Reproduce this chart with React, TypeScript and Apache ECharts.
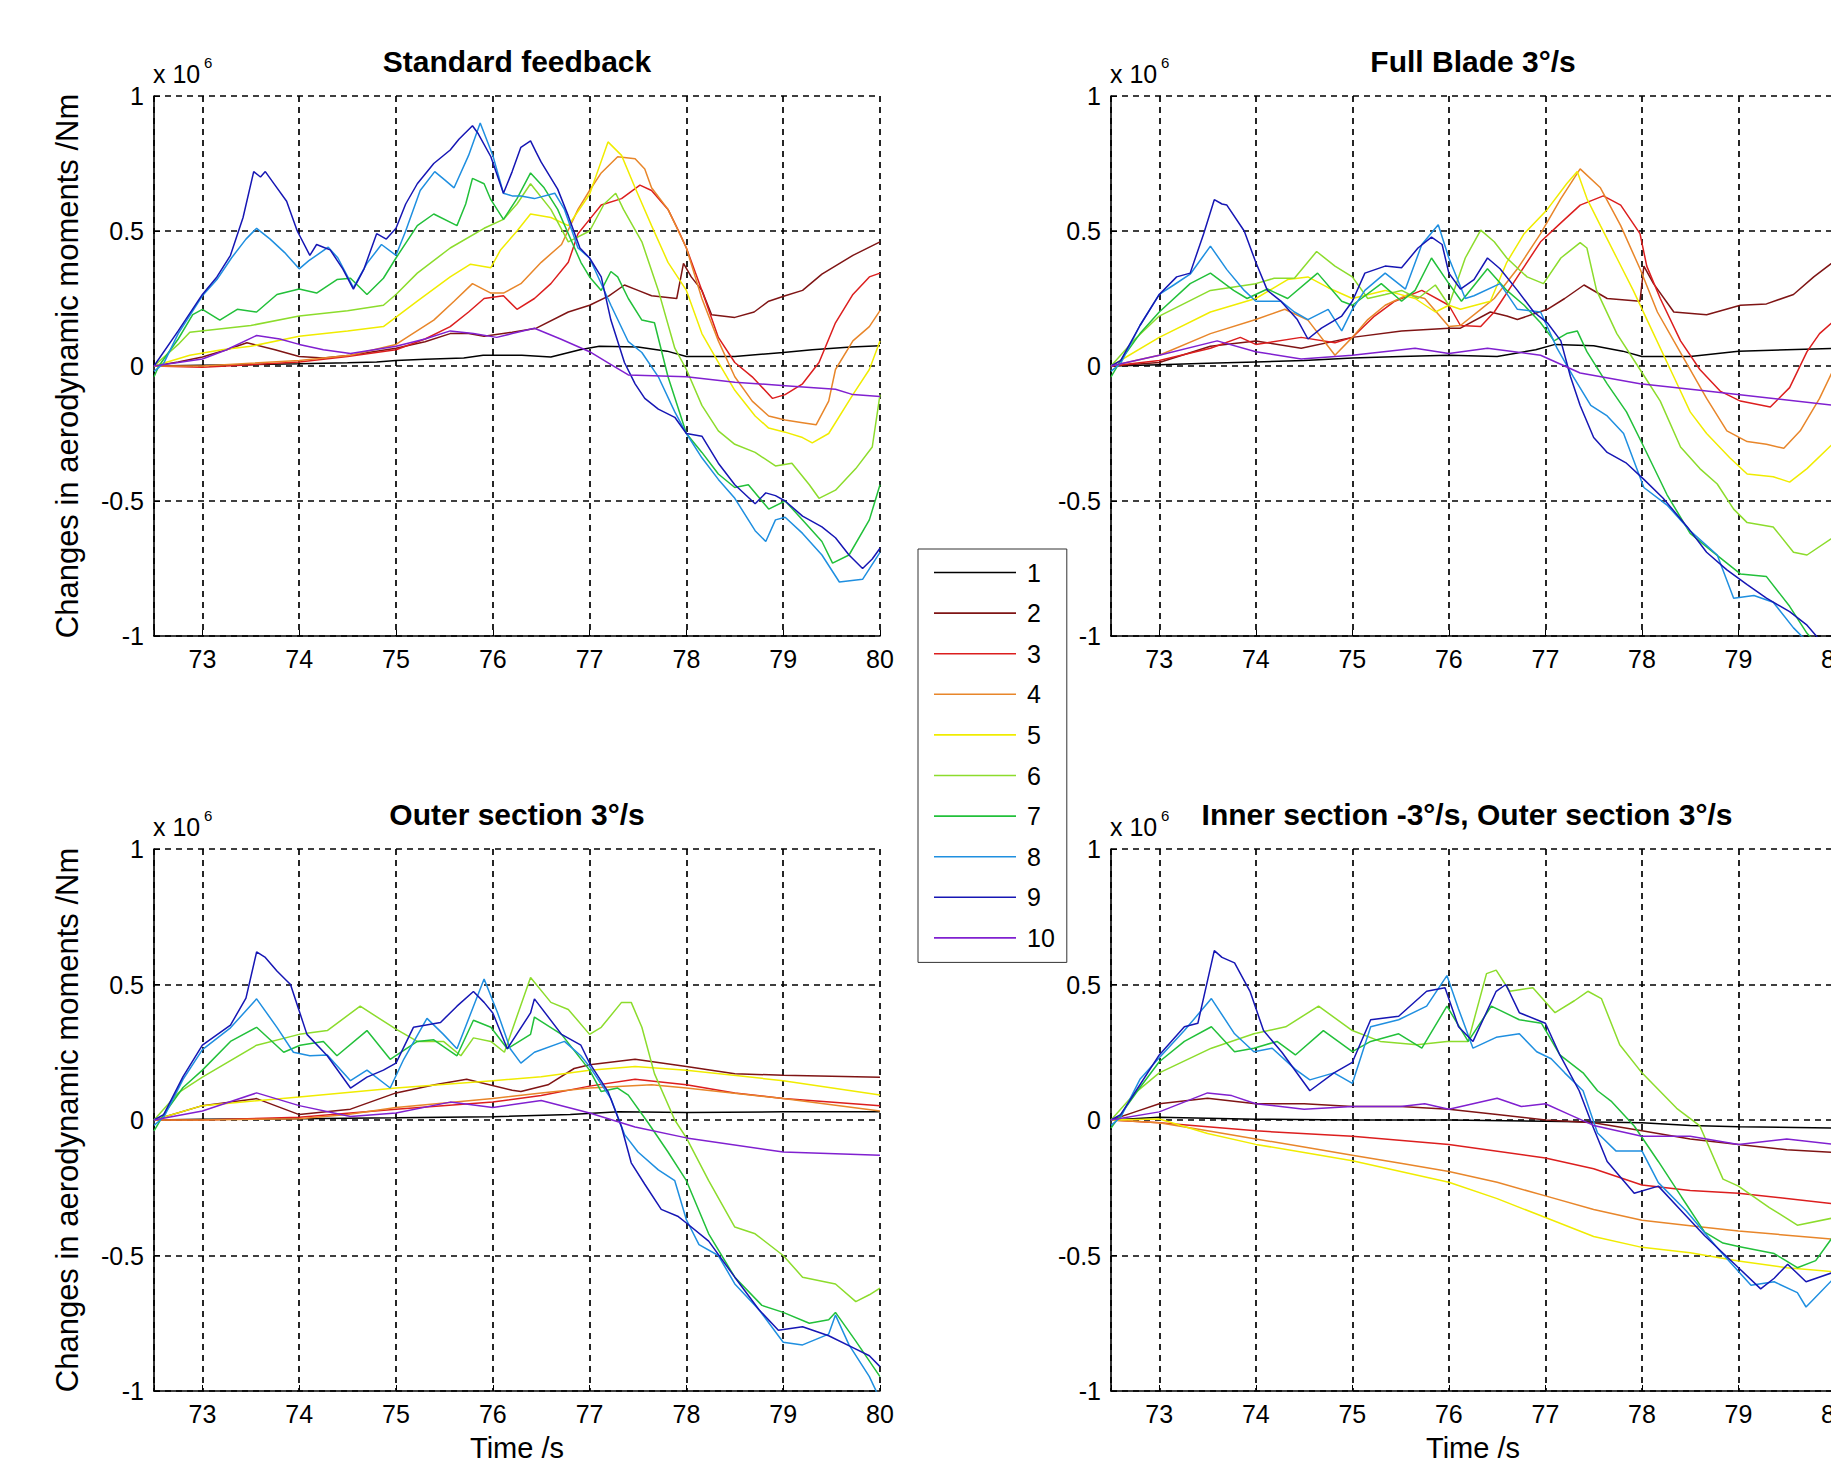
import React, { useEffect, useRef } from "react";
import * as echarts from "echarts";

type Pts = [number, number][];

const CURVE_NAMES = ["1", "2", "3", "4", "5", "6", "7", "8", "9", "10"];
const CURVE_COLORS = [
  "#000000", "#7f1414", "#dc1e1e", "#e8862a", "#f0ec00",
  "#8cdc2c", "#22c03a", "#1f8fe0", "#1616b4", "#8020d0",
];
const PANEL_TITLES = [
  "Standard feedback",
  "Full Blade 3°/s",
  "Outer section 3°/s",
  "Inner section -3°/s, Outer section 3°/s",
];
const Y_TITLE = "Changes in aerodynamic moments /Nm";
const X_TITLE = "Time /s";
const X_MIN = 72.5;
const X_MAX = 80;
const Y_MIN = -1;
const Y_MAX = 1;
const Y_STEP = 0.5;

// ---------- Standard feedback ----------
const SF_1: Pts = [[72.5,0],[73,0.003],[73.5,0.005],[74,0.008],[74.5,0.012],[74.8,0.015],[75,0.02],[75.3,0.025],[75.7,0.03],[75.9,0.04],[76.3,0.04],[76.6,0.033],[76.9,0.06],[77.1,0.073],[77.5,0.07],[77.8,0.055],[78,0.035],[78.5,0.035],[79,0.05],[79.3,0.06],[79.7,0.07],[80,0.075]];
const SF_2: Pts = [[72.5,0],[72.75,0.015],[73,0.033],[73.25,0.06],[73.46,0.086],[73.75,0.06],[74,0.035],[74.25,0.03],[74.53,0.04],[75,0.066],[75.3,0.09],[75.56,0.12],[75.75,0.12],[75.91,0.11],[76.2,0.125],[76.45,0.14],[76.78,0.2],[77,0.225],[77.2,0.26],[77.36,0.3],[77.5,0.28],[77.64,0.26],[77.9,0.25],[77.97,0.38],[78.05,0.33],[78.16,0.28],[78.26,0.19],[78.5,0.18],[78.7,0.2],[78.85,0.24],[79.02,0.26],[79.2,0.28],[79.4,0.34],[79.72,0.41],[80,0.46]];
const SF_3: Pts = [[72.5,0],[73,-0.005],[73.5,0.005],[74,0.015],[74.5,0.035],[75,0.06],[75.3,0.1],[75.56,0.146],[75.75,0.2],[75.91,0.25],[76.11,0.26],[76.25,0.21],[76.43,0.25],[76.6,0.305],[76.78,0.384],[76.88,0.49],[77,0.543],[77.12,0.596],[77.33,0.62],[77.52,0.67],[77.64,0.65],[77.81,0.58],[77.92,0.5],[78,0.437],[78.16,0.28],[78.33,0.106],[78.5,0.013],[78.68,-0.04],[78.89,-0.12],[79.02,-0.106],[79.2,-0.066],[79.37,0.013],[79.54,0.16],[79.72,0.265],[79.89,0.33],[80,0.344]];
const SF_4: Pts = [[72.5,0],[73,0],[73.5,0.01],[74,0.02],[74.53,0.04],[75,0.08],[75.39,0.17],[75.6,0.24],[75.79,0.305],[75.98,0.27],[76.11,0.27],[76.29,0.305],[76.5,0.384],[76.71,0.45],[76.88,0.58],[77,0.65],[77.12,0.715],[77.29,0.775],[77.47,0.768],[77.57,0.73],[77.64,0.66],[77.81,0.58],[78,0.437],[78.16,0.25],[78.33,0.093],[78.5,-0.04],[78.68,-0.13],[78.85,-0.185],[79.02,-0.2],[79.2,-0.21],[79.34,-0.218],[79.47,-0.13],[79.54,-0.013],[79.72,0.093],[79.89,0.146],[80,0.205]];
const SF_5: Pts = [[72.5,0],[72.87,0.04],[73.2,0.06],[73.5,0.073],[74,0.11],[74.5,0.13],[74.87,0.146],[75.22,0.24],[75.56,0.33],[75.77,0.377],[75.98,0.364],[76.08,0.43],[76.25,0.5],[76.39,0.563],[76.6,0.55],[76.78,0.52],[77,0.636],[77.19,0.83],[77.33,0.78],[77.47,0.66],[77.64,0.52],[77.81,0.384],[78,0.28],[78.16,0.12],[78.33,0.013],[78.5,-0.09],[78.71,-0.185],[78.85,-0.23],[79.02,-0.245],[79.2,-0.265],[79.3,-0.285],[79.47,-0.25],[79.72,-0.106],[79.89,-0.013],[80,0.093]];
const SF_6: Pts = [[72.5,0],[72.75,0.08],[72.87,0.125],[73.5,0.15],[74,0.185],[74.5,0.205],[74.87,0.225],[75,0.265],[75.22,0.344],[75.56,0.437],[75.91,0.51],[76.11,0.543],[76.25,0.6],[76.39,0.675],[76.6,0.58],[76.78,0.46],[77,0.5],[77.15,0.6],[77.27,0.64],[77.35,0.58],[77.54,0.46],[77.71,0.28],[77.88,0.066],[78,-0.013],[78.16,-0.146],[78.33,-0.24],[78.5,-0.29],[78.71,-0.32],[78.92,-0.37],[79.09,-0.36],[79.27,-0.44],[79.37,-0.49],[79.54,-0.46],[79.75,-0.38],[79.92,-0.3],[80,-0.106]];
const SF_7: Pts = [[72.5,-0.04],[72.55,0],[72.75,0.1],[72.9,0.19],[73,0.21],[73.18,0.17],[73.36,0.21],[73.56,0.2],[73.77,0.265],[74,0.285],[74.18,0.27],[74.39,0.32],[74.53,0.325],[74.7,0.265],[74.87,0.325],[75,0.4],[75.22,0.52],[75.39,0.563],[75.63,0.52],[75.72,0.6],[75.79,0.695],[75.91,0.675],[75.98,0.616],[76.11,0.543],[76.25,0.62],[76.39,0.715],[76.53,0.66],[76.67,0.58],[76.78,0.49],[76.91,0.384],[77,0.33],[77.12,0.28],[77.22,0.35],[77.29,0.33],[77.4,0.25],[77.54,0.17],[77.67,0.16],[77.81,-0.04],[78,-0.25],[78.16,-0.32],[78.33,-0.4],[78.5,-0.45],[78.64,-0.44],[78.85,-0.53],[79.02,-0.5],[79.2,-0.57],[79.4,-0.65],[79.51,-0.73],[79.68,-0.7],[79.89,-0.57],[80,-0.44]];
const SF_8: Pts = [[72.5,-0.02],[72.6,0.01],[72.75,0.12],[73,0.26],[73.15,0.32],[73.3,0.4],[73.45,0.47],[73.56,0.51],[73.7,0.47],[73.85,0.42],[74,0.36],[74.1,0.39],[74.3,0.44],[74.4,0.4],[74.56,0.29],[74.7,0.38],[74.85,0.45],[75,0.41],[75.1,0.5],[75.25,0.65],[75.4,0.72],[75.5,0.69],[75.6,0.66],[75.75,0.78],[75.87,0.9],[76,0.78],[76.11,0.64],[76.2,0.63],[76.29,0.63],[76.43,0.62],[76.64,0.64],[76.74,0.58],[76.88,0.437],[77,0.4],[77.22,0.225],[77.4,0.09],[77.54,0.05],[77.71,-0.04],[77.88,-0.17],[78,-0.25],[78.16,-0.34],[78.33,-0.42],[78.5,-0.49],[78.71,-0.61],[78.82,-0.65],[78.92,-0.57],[79.02,-0.56],[79.2,-0.62],[79.4,-0.7],[79.58,-0.8],[79.82,-0.79],[80,-0.69]];
const SF_9: Pts = [[72.5,0],[72.75,0.13],[73,0.265],[73.15,0.33],[73.29,0.41],[73.42,0.55],[73.53,0.72],[73.6,0.7],[73.65,0.72],[73.75,0.67],[73.87,0.61],[73.98,0.5],[74.11,0.41],[74.18,0.45],[74.25,0.44],[74.32,0.43],[74.45,0.36],[74.56,0.285],[74.67,0.36],[74.8,0.49],[74.9,0.47],[75,0.51],[75.1,0.6],[75.22,0.675],[75.39,0.75],[75.56,0.8],[75.65,0.84],[75.79,0.89],[75.85,0.86],[75.98,0.775],[76.11,0.64],[76.2,0.72],[76.29,0.81],[76.39,0.834],[76.45,0.79],[76.5,0.755],[76.67,0.655],[76.78,0.556],[76.9,0.437],[77,0.4],[77.12,0.33],[77.22,0.17],[77.36,0.013],[77.47,-0.066],[77.57,-0.12],[77.71,-0.16],[77.88,-0.19],[78,-0.25],[78.16,-0.26],[78.33,-0.36],[78.5,-0.44],[78.71,-0.51],[78.82,-0.47],[78.92,-0.48],[79.02,-0.5],[79.2,-0.556],[79.4,-0.596],[79.54,-0.636],[79.68,-0.7],[79.82,-0.75],[79.92,-0.715],[80,-0.675]];
const SF_10: Pts = [[72.5,0],[73,0.026],[73.25,0.06],[73.56,0.113],[73.8,0.1],[74,0.08],[74.25,0.06],[74.53,0.046],[75,0.073],[75.3,0.1],[75.56,0.13],[75.8,0.12],[76.04,0.106],[76.2,0.12],[76.43,0.14],[76.7,0.1],[77,0.053],[77.2,0.01],[77.4,-0.033],[78,-0.04],[78.5,-0.06],[79.02,-0.073],[79.54,-0.086],[79.72,-0.106],[80,-0.113]];

// ---------- Full Blade 3°/s ----------
const FB_1: Pts = [[72.5,0],[73,0.005],[73.5,0.01],[74,0.015],[74.5,0.02],[75,0.03],[75.5,0.035],[76,0.04],[76.5,0.035],[76.9,0.06],[77.1,0.08],[77.5,0.075],[77.8,0.055],[78,0.035],[78.5,0.035],[79,0.055],[79.5,0.06],[80,0.065]];
const FB_2: Pts = [[72.5,0],[73,0.013],[73.53,0.073],[74,0.093],[74.47,0.066],[75,0.106],[75.51,0.13],[76,0.14],[76.12,0.14],[76.43,0.2],[76.6,0.185],[76.71,0.172],[77.02,0.21],[77.2,0.25],[77.4,0.3],[77.64,0.25],[77.98,0.24],[78.02,0.37],[78.12,0.305],[78.33,0.2],[78.67,0.19],[79.02,0.225],[79.29,0.23],[79.57,0.265],[79.78,0.33],[80,0.39]];
const FB_3: Pts = [[72.5,0],[73,0.02],[73.53,0.066],[73.84,0.106],[74,0.08],[74.47,0.106],[74.82,0.086],[75,0.106],[75.23,0.185],[75.44,0.24],[75.72,0.28],[76,0.225],[76.12,0.15],[76.33,0.146],[76.47,0.2],[76.71,0.33],[76.95,0.46],[77.16,0.53],[77.36,0.596],[77.6,0.63],[77.78,0.596],[77.98,0.49],[78.05,0.37],[78.19,0.25],[78.4,0.093],[78.6,-0.013],[78.81,-0.093],[79.02,-0.13],[79.33,-0.152],[79.53,-0.08],[79.71,0.053],[79.84,0.12],[80,0.17]];
const FB_4: Pts = [[72.5,0],[73,0.04],[73.53,0.12],[74,0.172],[74.3,0.21],[74.54,0.17],[74.82,0.04],[75,0.106],[75.16,0.172],[75.34,0.225],[75.58,0.265],[75.75,0.25],[76,0.146],[76.12,0.15],[76.33,0.21],[76.47,0.25],[76.71,0.36],[76.95,0.49],[77.16,0.62],[77.36,0.73],[77.57,0.66],[77.78,0.52],[77.98,0.36],[78.16,0.2],[78.33,0.093],[78.5,-0.013],[78.67,-0.12],[78.88,-0.24],[79.09,-0.28],[79.29,-0.29],[79.47,-0.305],[79.64,-0.24],[79.84,-0.12],[80,0]];
const FB_5: Pts = [[72.5,0],[73,0.106],[73.53,0.2],[74,0.25],[74.33,0.32],[74.54,0.33],[74.75,0.29],[75,0.25],[75.34,0.28],[75.65,0.25],[75.86,0.2],[76,0.225],[76.12,0.21],[76.43,0.24],[76.6,0.384],[76.78,0.49],[77.02,0.58],[77.22,0.675],[77.33,0.72],[77.43,0.62],[77.57,0.52],[77.74,0.4],[77.91,0.28],[78.12,0.12],[78.33,-0.04],[78.5,-0.17],[78.67,-0.25],[78.91,-0.34],[79.09,-0.4],[79.36,-0.41],[79.53,-0.43],[79.71,-0.38],[80,-0.28]];
const FB_6: Pts = [[72.5,0],[72.75,0.1],[73,0.185],[73.53,0.28],[74,0.305],[74.19,0.325],[74.4,0.325],[74.63,0.424],[74.82,0.37],[75,0.33],[75.16,0.25],[75.34,0.265],[75.51,0.28],[75.68,0.25],[75.86,0.3],[76,0.225],[76.17,0.4],[76.33,0.503],[76.47,0.46],[76.6,0.4],[76.81,0.33],[76.98,0.305],[77.16,0.4],[77.36,0.457],[77.43,0.437],[77.53,0.28],[77.74,0.12],[77.98,-0.013],[78.19,-0.13],[78.4,-0.3],[78.6,-0.38],[78.78,-0.437],[78.95,-0.53],[79.09,-0.58],[79.36,-0.596],[79.57,-0.69],[79.71,-0.7],[80,-0.63]];
const FB_7: Pts = [[72.5,-0.04],[72.6,0.02],[72.8,0.12],[73,0.2],[73.32,0.305],[73.53,0.344],[73.77,0.28],[73.91,0.25],[74.12,0.285],[74.33,0.25],[74.64,0.344],[74.89,0.24],[75,0.225],[75.3,0.305],[75.51,0.24],[75.65,0.28],[75.82,0.4],[76,0.305],[76.13,0.24],[76.4,0.36],[76.6,0.28],[76.78,0.225],[76.95,0.16],[77.09,0.093],[77.22,0.12],[77.33,0.13],[77.43,0.053],[77.64,-0.066],[77.84,-0.17],[78.02,-0.3],[78.26,-0.477],[78.5,-0.62],[78.74,-0.69],[79.02,-0.77],[79.29,-0.78],[79.53,-0.89],[79.71,-0.99],[80,-1.1]];
const FB_8: Pts = [[72.5,-0.02],[72.6,0.01],[72.8,0.15],[73,0.265],[73.15,0.3],[73.32,0.34],[73.53,0.444],[73.7,0.357],[73.88,0.28],[74,0.24],[74.26,0.24],[74.4,0.2],[74.54,0.172],[74.75,0.21],[74.89,0.13],[75,0.21],[75.13,0.28],[75.34,0.344],[75.55,0.285],[75.72,0.45],[75.89,0.523],[76,0.4],[76.17,0.25],[76.26,0.26],[76.53,0.305],[76.71,0.21],[76.95,0.2],[77.12,0.066],[77.29,-0.04],[77.47,-0.146],[77.64,-0.185],[77.81,-0.25],[78.02,-0.45],[78.26,-0.515],[78.5,-0.61],[78.78,-0.7],[78.95,-0.86],[79.16,-0.85],[79.36,-0.875],[79.57,-0.97],[79.71,-1.02],[80,-1.15]];
const FB_9: Pts = [[72.5,0],[72.6,0.02],[72.8,0.15],[73,0.265],[73.18,0.33],[73.32,0.344],[73.46,0.49],[73.57,0.616],[73.65,0.6],[73.7,0.596],[73.88,0.5],[74,0.384],[74.12,0.28],[74.26,0.24],[74.43,0.172],[74.54,0.1],[74.68,0.14],[74.89,0.185],[75,0.24],[75.13,0.344],[75.34,0.37],[75.51,0.364],[75.68,0.437],[75.82,0.477],[75.93,0.45],[76,0.344],[76.12,0.285],[76.26,0.32],[76.4,0.4],[76.53,0.36],[76.71,0.28],[76.88,0.2],[77.02,0.16],[77.16,0.093],[77.26,-0.04],[77.36,-0.146],[77.5,-0.265],[77.64,-0.32],[77.84,-0.36],[78.02,-0.42],[78.22,-0.49],[78.47,-0.596],[78.67,-0.69],[78.88,-0.755],[79.09,-0.81],[79.29,-0.86],[79.53,-0.91],[79.71,-0.96],[80,-1.08]];
const FB_10: Pts = [[72.5,0],[73,0.04],[73.6,0.093],[74,0.053],[74.47,0.026],[75,0.04],[75.65,0.066],[76,0.046],[76.4,0.066],[76.95,0.04],[77.36,-0.026],[77.98,-0.066],[78.67,-0.093],[79.36,-0.12],[80,-0.146]];

// ---------- Outer section 3°/s ----------
const OS_1: Pts = [[72.5,0],[73,0.003],[74,0.005],[75,0.008],[76,0.012],[76.8,0.02],[77.3,0.03],[78,0.028],[79,0.03],[80,0.03]];
const OS_2: Pts = [[72.5,0],[73,0.053],[73.56,0.079],[74,0.02],[74.53,0.04],[75,0.1],[75.4,0.13],[75.73,0.15],[76.2,0.11],[76.29,0.105],[76.57,0.13],[76.84,0.19],[77,0.204],[77.47,0.224],[78,0.197],[78.5,0.171],[79,0.165],[80,0.158]];
const OS_3: Pts = [[72.5,0],[73,0],[74,0.01],[75,0.04],[76,0.066],[76.5,0.09],[77,0.125],[77.47,0.15],[78,0.13],[78.5,0.1],[79,0.079],[80,0.053]];
const OS_4: Pts = [[72.5,0],[73,0],[74,0.005],[74.5,0.02],[75,0.046],[76,0.079],[76.5,0.1],[77,0.118],[77.64,0.13],[78,0.118],[79,0.079],[80,0.033]];
const OS_5: Pts = [[72.5,0],[73,0.053],[74,0.085],[75,0.118],[76,0.145],[76.5,0.16],[77,0.184],[77.47,0.197],[78,0.184],[79,0.145],[80,0.092]];
const OS_6: Pts = [[72.5,0],[72.75,0.1],[73,0.158],[73.56,0.276],[74,0.316],[74.29,0.33],[74.63,0.42],[75,0.335],[75.22,0.29],[75.49,0.29],[75.67,0.237],[75.8,0.303],[75.98,0.29],[76.12,0.25],[76.39,0.526],[76.6,0.434],[76.78,0.408],[77,0.316],[77.12,0.342],[77.33,0.434],[77.43,0.434],[77.54,0.342],[77.67,0.171],[77.88,0],[78,-0.066],[78.23,-0.224],[78.5,-0.395],[78.71,-0.42],[79,-0.5],[79.2,-0.58],[79.54,-0.605],[79.75,-0.67],[79.89,-0.645],[80,-0.62]];
const OS_7: Pts = [[72.5,-0.04],[72.6,0.02],[72.8,0.12],[73,0.184],[73.29,0.29],[73.56,0.342],[73.84,0.25],[74.01,0.276],[74.25,0.29],[74.39,0.237],[74.7,0.33],[74.94,0.224],[75.22,0.29],[75.39,0.296],[75.63,0.237],[75.8,0.368],[75.98,0.342],[76.15,0.263],[76.39,0.316],[76.43,0.38],[76.71,0.316],[77,0.184],[77.12,0.105],[77.29,0.118],[77.4,0.092],[77.61,-0.013],[77.81,-0.118],[78,-0.224],[78.23,-0.42],[78.5,-0.58],[78.78,-0.684],[79,-0.71],[79.27,-0.75],[79.47,-0.737],[79.54,-0.71],[79.75,-0.816],[80,-0.947]];
const OS_8: Pts = [[72.5,-0.02],[72.6,0.01],[72.8,0.15],[73,0.26],[73.29,0.34],[73.56,0.447],[73.77,0.342],[73.94,0.25],[74.11,0.237],[74.29,0.24],[74.53,0.145],[74.7,0.184],[74.94,0.118],[75.08,0.224],[75.32,0.375],[75.49,0.316],[75.63,0.263],[75.91,0.52],[76.05,0.395],[76.18,0.263],[76.29,0.21],[76.43,0.25],[76.74,0.29],[76.91,0.237],[77,0.197],[77.22,0.079],[77.36,-0.053],[77.5,-0.118],[77.71,-0.184],[77.88,-0.224],[78,-0.368],[78.13,-0.46],[78.33,-0.5],[78.5,-0.605],[78.75,-0.7],[79,-0.82],[79.2,-0.83],[79.47,-0.79],[79.54,-0.72],[79.68,-0.83],[79.89,-0.947],[80,-1.03]];
const OS_9: Pts = [[72.5,0],[72.6,0.02],[72.8,0.16],[73,0.276],[73.29,0.35],[73.45,0.45],[73.56,0.62],[73.65,0.6],[73.77,0.55],[73.91,0.5],[74.08,0.316],[74.29,0.237],[74.53,0.118],[74.7,0.158],[74.87,0.184],[75,0.21],[75.18,0.342],[75.46,0.36],[75.63,0.42],[75.8,0.474],[75.91,0.434],[76,0.395],[76.15,0.263],[76.39,0.395],[76.43,0.447],[76.71,0.316],[76.91,0.276],[77,0.21],[77.19,0.105],[77.33,-0.026],[77.43,-0.158],[77.57,-0.237],[77.74,-0.33],[77.91,-0.355],[78,-0.38],[78.23,-0.447],[78.5,-0.58],[78.75,-0.7],[78.95,-0.776],[79.2,-0.763],[79.47,-0.796],[79.72,-0.84],[79.89,-0.87],[80,-0.91]];
const OS_10: Pts = [[72.5,0],[73,0.033],[73.56,0.1],[74,0.053],[74.53,0.013],[75,0.026],[75.56,0.066],[76,0.046],[76.5,0.072],[77,0.026],[77.47,-0.026],[78,-0.066],[79,-0.118],[80,-0.13]];

// ---------- Inner section -3°/s, Outer section 3°/s ----------
const IO_1: Pts = [[72.5,0],[73,0.01],[74,0.003],[75,0],[76,0],[77,-0.005],[78,-0.01],[78.5,-0.02],[79,-0.025],[80,-0.03]];
const IO_2: Pts = [[72.5,0],[72.75,0.03],[73,0.06],[73.5,0.08],[74,0.06],[74.5,0.06],[75,0.05],[75.5,0.05],[76,0.04],[76.5,0.02],[77,0],[77.5,-0.01],[78,-0.04],[78.5,-0.07],[79,-0.09],[79.5,-0.11],[80,-0.12]];
const IO_3: Pts = [[72.5,0],[73,-0.01],[73.5,-0.025],[74,-0.04],[75,-0.06],[76,-0.09],[77,-0.14],[77.5,-0.18],[78,-0.24],[78.5,-0.26],[79,-0.27],[79.5,-0.29],[80,-0.31]];
const IO_4: Pts = [[72.5,0],[73,-0.01],[73.5,-0.04],[74,-0.07],[74.5,-0.1],[75,-0.13],[75.5,-0.16],[76,-0.19],[76.5,-0.23],[77,-0.28],[77.5,-0.33],[78,-0.37],[78.5,-0.39],[79,-0.41],[79.5,-0.425],[80,-0.44]];
const IO_5: Pts = [[72.5,0],[73,0.004],[73.5,-0.05],[74,-0.09],[74.5,-0.12],[75,-0.15],[75.5,-0.19],[76,-0.23],[76.5,-0.29],[77,-0.36],[77.5,-0.43],[78,-0.47],[78.5,-0.49],[79,-0.52],[79.5,-0.545],[80,-0.56]];
const IO_6: Pts = [[72.5,0],[72.75,0.1],[73,0.174],[73.54,0.265],[73.98,0.318],[74.31,0.344],[74.65,0.42],[75,0.33],[75.29,0.29],[75.67,0.278],[75.98,0.29],[76.2,0.29],[76.39,0.54],[76.49,0.553],[76.63,0.475],[76.87,0.488],[77.1,0.396],[77.3,0.44],[77.44,0.475],[77.58,0.448],[77.77,0.278],[78,0.174],[78.36,0.043],[78.6,-0.022],[78.84,-0.218],[79,-0.244],[79.32,-0.323],[79.61,-0.388],[80,-0.36]];
const IO_7: Pts = [[72.5,-0.03],[72.6,0.02],[72.8,0.12],[73,0.215],[73.26,0.29],[73.54,0.344],[73.78,0.252],[73.98,0.265],[74.22,0.29],[74.41,0.24],[74.7,0.33],[75,0.252],[75.19,0.29],[75.48,0.318],[75.72,0.265],[75.98,0.42],[76.2,0.29],[76.44,0.42],[76.73,0.37],[76.96,0.357],[77.15,0.24],[77.39,0.174],[77.54,0.108],[77.68,0.07],[77.92,-0.022],[78.17,-0.153],[78.41,-0.284],[78.65,-0.414],[78.84,-0.454],[79,-0.467],[79.37,-0.493],[79.61,-0.545],[79.8,-0.519],[80,-0.42]];
const IO_8: Pts = [[72.5,-0.02],[72.6,0.01],[72.8,0.15],[73,0.23],[73.26,0.33],[73.54,0.448],[73.78,0.318],[73.98,0.252],[74.17,0.265],[74.41,0.187],[74.56,0.148],[74.81,0.174],[75,0.135],[75.19,0.344],[75.48,0.37],[75.77,0.42],[75.98,0.533],[76.1,0.41],[76.25,0.265],[76.49,0.305],[76.73,0.318],[76.91,0.252],[77.06,0.226],[77.2,0.174],[77.39,0.108],[77.54,-0.048],[77.73,-0.114],[78,-0.114],[78.17,-0.231],[78.46,-0.336],[78.8,-0.48],[79.13,-0.61],[79.37,-0.597],[79.61,-0.637],[79.7,-0.69],[80,-0.58]];
const IO_9: Pts = [[72.5,0],[72.6,0.02],[72.8,0.13],[73,0.24],[73.26,0.344],[73.4,0.357],[73.57,0.625],[73.65,0.6],[73.78,0.58],[73.94,0.475],[74.08,0.33],[74.27,0.25],[74.56,0.108],[74.81,0.174],[75,0.213],[75.19,0.37],[75.48,0.383],[75.77,0.475],[75.96,0.488],[76.1,0.344],[76.25,0.29],[76.49,0.475],[76.59,0.5],[76.73,0.396],[77,0.357],[77.15,0.24],[77.35,0.108],[77.49,-0.022],[77.64,-0.153],[77.92,-0.27],[78.17,-0.244],[78.41,-0.336],[78.65,-0.427],[79,-0.545],[79.23,-0.623],[79.37,-0.584],[79.51,-0.532],[79.7,-0.597],[80,-0.56]];
const IO_10: Pts = [[72.5,0],[73,0.03],[73.5,0.1],[73.75,0.09],[74,0.06],[74.5,0.04],[75,0.05],[75.5,0.05],[75.75,0.06],[76,0.04],[76.5,0.08],[76.75,0.05],[77,0.06],[77.25,0.02],[77.5,-0.02],[78,-0.06],[78.5,-0.06],[79,-0.09],[79.5,-0.07],[80,-0.09]];

const PANEL_DATA: Pts[][] = [
  [SF_1, SF_2, SF_3, SF_4, SF_5, SF_6, SF_7, SF_8, SF_9, SF_10],
  [FB_1, FB_2, FB_3, FB_4, FB_5, FB_6, FB_7, FB_8, FB_9, FB_10],
  [OS_1, OS_2, OS_3, OS_4, OS_5, OS_6, OS_7, OS_8, OS_9, OS_10],
  [IO_1, IO_2, IO_3, IO_4, IO_5, IO_6, IO_7, IO_8, IO_9, IO_10],
];

// layout (pixels)
const GRIDS = [
  { left: 154, top: 96, width: 726, height: 540 },
  { left: 1111, top: 96, width: 724, height: 540 },
  { left: 154, top: 849, width: 726, height: 542 },
  { left: 1111, top: 849, width: 724, height: 542 },
];
const FONT = "'Liberation Sans', Arial, Helvetica, sans-serif";

export default function App() {
  const ref = useRef<HTMLDivElement>(null);
  useEffect(() => {
    if (!ref.current) return;
    const chart = echarts.init(ref.current, null, { renderer: "svg" });

    const dash = { color: "#000", type: [6, 5] as number[], width: 1.7 };

    const xAxis = GRIDS.map((_, i) => ({
      type: "value",
      gridIndex: i,
      min: X_MIN,
      max: X_MAX,
      splitNumber: 7,
      name: i >= 2 ? X_TITLE : "",
      nameLocation: "middle",
      nameGap: 42,
      nameTextStyle: { fontSize: 29, color: "#000", fontFamily: FONT },
      axisLine: { show: true, onZero: false, lineStyle: { color: "#000", width: 1.6 } },
      axisTick: { show: true, inside: true, length: 6, lineStyle: { color: "#000", width: 1 } },
      axisLabel: {
        color: "#000",
        fontSize: 25,
        fontFamily: FONT,
        margin: 10,
        formatter: (v: number) => (Math.abs(v - Math.round(v)) < 1e-6 ? String(Math.round(v)) : ""),
      },
      splitLine: { show: true, lineStyle: dash },
    }));

    const yAxis = GRIDS.map((_, i) => ({
      type: "value",
      gridIndex: i,
      min: Y_MIN,
      max: Y_MAX,
      interval: Y_STEP,
      axisLine: { show: true, onZero: false, lineStyle: { color: "#000", width: 1.6 } },
      axisTick: { show: true, inside: true, length: 6, lineStyle: { color: "#000", width: 1 } },
      axisLabel: { color: "#000", fontSize: 25, fontFamily: FONT, margin: 10 },
      splitLine: { show: true, lineStyle: dash },
    }));

    const series: any[] = [];
    PANEL_DATA.forEach((panel, p) => {
      panel.forEach((pts, k) => {
        series.push({
          type: "line",
          name: CURVE_NAMES[k],
          xAxisIndex: p,
          yAxisIndex: p,
          data: pts,
          symbol: "none",
          showSymbol: false,
          clip: true,
          silent: true,
          color: CURVE_COLORS[k],
          lineStyle: { color: CURVE_COLORS[k], width: 1.5 },
          emphasis: { disabled: true },
          z: 3,
        });
      });
    });

    const graphics: any[] = [];
    GRIDS.forEach((g, i) => {
      const cx = g.left + g.width / 2;
      graphics.push({
        type: "text",
        x: i === 3 ? 1467 : cx,
        y: g.top - 35,
        style: {
          text: PANEL_TITLES[i],
          fontSize: 30,
          fontWeight: "bold",
          fontFamily: FONT,
          fill: "#000",
          textAlign: "center",
          textVerticalAlign: "middle",
        },
      });
      graphics.push({
        type: "text",
        x: g.left - 1,
        y: g.top - 22,
        style: {
          text: "x 10",
          fontSize: 25,
          fontFamily: FONT,
          fill: "#000",
          textAlign: "left",
          textVerticalAlign: "middle",
        },
      });
      graphics.push({
        type: "text",
        x: g.left + 50,
        y: g.top - 34,
        style: {
          text: "6",
          fontSize: 15,
          fontFamily: FONT,
          fill: "#000",
          textAlign: "left",
          textVerticalAlign: "middle",
        },
      });
      if (i === 0 || i === 2) {
        graphics.push({
          type: "text",
          x: 67,
          y: g.top + g.height / 2,
          rotation: Math.PI / 2,
          style: {
            text: Y_TITLE,
            fontSize: 31,
            fontFamily: FONT,
            fill: "#000",
            textAlign: "center",
            textVerticalAlign: "middle",
          },
        });
      }
    });

    chart.setOption({
      animation: false,
      backgroundColor: "#ffffff",
      textStyle: { fontFamily: FONT },
      grid: GRIDS.map((g) => ({ ...g, containLabel: false, outerBoundsMode: "none" })),
      xAxis,
      yAxis,
      legend: {
        data: CURVE_NAMES,
        orient: "vertical",
        left: 918,
        top: 549,
        icon: "rect",
        itemWidth: 82,
        itemHeight: 1.6,
        itemGap: 15.6,
        padding: [11, 12, 12, 16],
        borderColor: "#333",
        borderWidth: 1,
        backgroundColor: "#fff",
        selectedMode: false,
        textStyle: {
          fontSize: 25,
          lineHeight: 24,
          color: "#000",
          fontFamily: FONT,
          padding: [0, 0, 0, 6],
        },
      },
      graphic: graphics,
      series,
    });

    return () => chart.dispose();
  }, []);

  return (
    <div
      ref={ref}
      style={{ position: "absolute", left: 0, top: 0, width: 1831, height: 1466, background: "#fff" }}
    />
  );
}
